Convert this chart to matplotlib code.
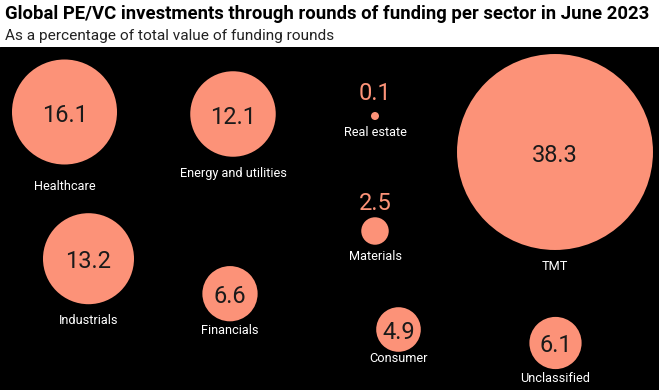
import matplotlib
matplotlib.use("Agg")
import matplotlib.pyplot as plt
from matplotlib.patches import Circle

# ---- data ----
sectors = ["Healthcare", "Energy and utilities", "Real estate", "TMT",
           "Industrials", "Financials", "Materials", "Consumer", "Unclassified"]
values = [16.1, 12.1, 0.1, 38.3, 13.2, 6.6, 2.5, 4.9, 6.1]

title = "Global PE/VC investments through rounds of funding per sector in June 2023"
subtitle = "As a percentage of total value of funding rounds"

# ---- layout (pixel-like coordinates of the canvas) ----
cx = [64.5, 233, 375, 555, 88.5, 230, 375, 398.5, 555.5]
cy = [112, 114, 116, 152, 258.7, 293.7, 231, 329.5, 343]
name_y = [186, 173, 133, 266, 320, 330, 257, 359, 378]
value_outside_y = {2: 92, 6: 202}   # small bubbles show value above

BUBBLE = "#FC9278"
W, H = 659, 390
TOP = 47

fig = plt.figure(figsize=(W / 100, H / 100), dpi=100, facecolor="white")
ax = fig.add_axes([0, 0, 1, (H - TOP) / H])
ax.set_facecolor("black")
ax.set_xlim(0, W)
ax.set_ylim(H, TOP)
ax.set_axis_off()
ax.add_patch(plt.Rectangle((0, TOP), W, H - TOP, color="black", zorder=0))

def radius(v):
    return max(4.0, 7.1 * v ** 0.72)

FONT = ["Roboto", "DejaVu Sans"]
for i, (s, v) in enumerate(zip(sectors, values)):
    r = radius(v)
    ax.add_patch(Circle((cx[i], cy[i]), r, facecolor=BUBBLE, edgecolor="none", zorder=2))
    if i in value_outside_y:
        ax.text(cx[i], value_outside_y[i] + 2, f"{v}", ha="center", va="center",
                fontsize=17, color=BUBBLE, family=FONT, zorder=3)
    else:
        ax.text(cx[i], cy[i] + 3, f"{v}", ha="center", va="center",
                fontsize=17, color="#1a1a1a", family=FONT, zorder=3)
    ax.text(cx[i], name_y[i], s, ha="center", va="center", fontsize=9.2,
            color="white", family=FONT, zorder=3)

fig.text(5 / W, 1 - 14 / H, title, ha="left", va="center", fontsize=13.3,
         fontweight="bold", family=FONT, color="black")
fig.text(5 / W, 1 - 36 / H, subtitle, ha="left", va="center", fontsize=11.1,
         family=FONT, color="#222222")

fig.savefig("out.png", dpi=100, facecolor="white")
